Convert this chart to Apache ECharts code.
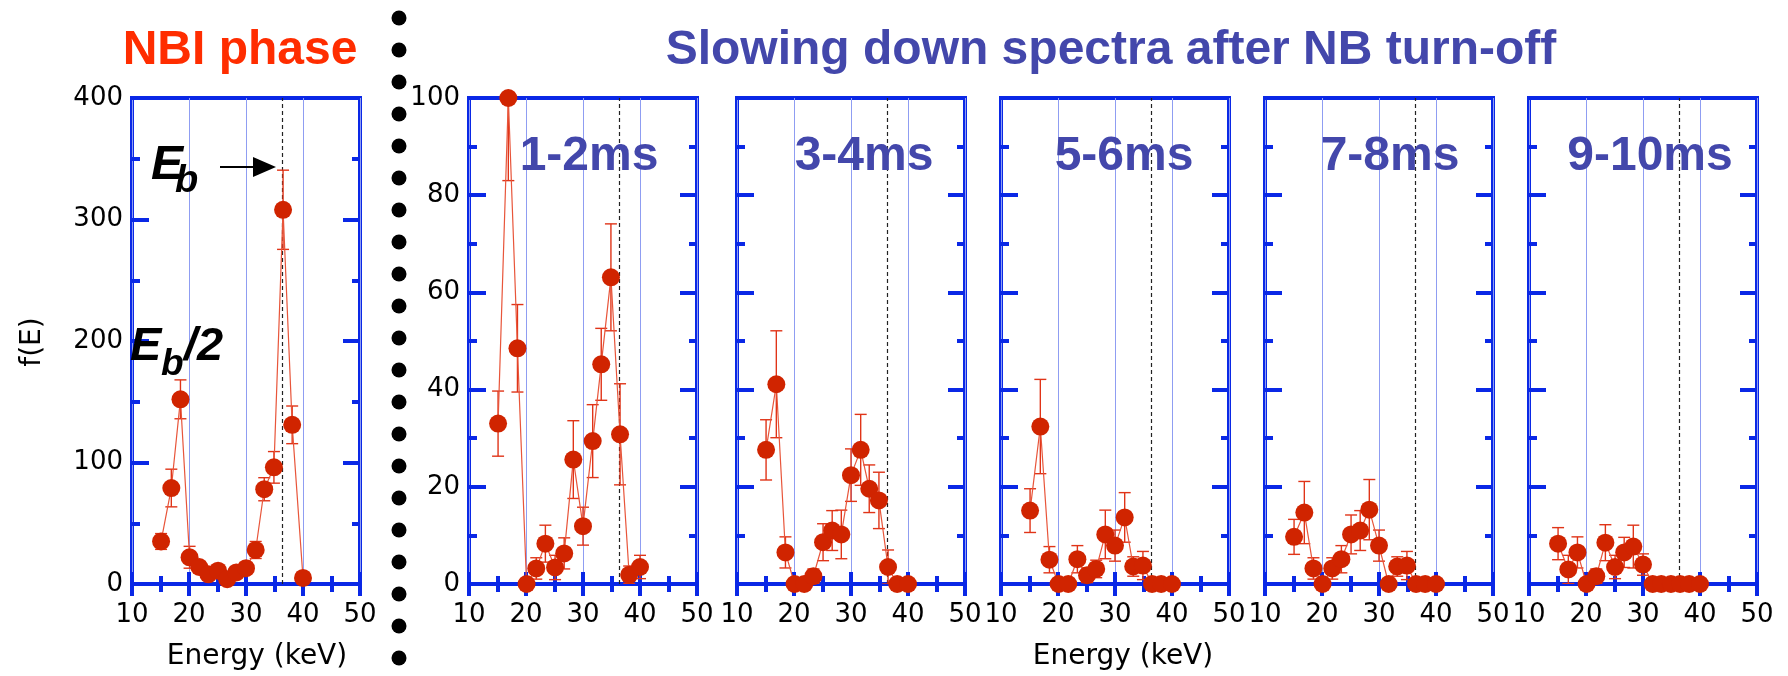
<!DOCTYPE html>
<html>
<head>
<meta charset="utf-8">
<script src="https://cdn.jsdelivr.net/npm/echarts@6/dist/echarts.min.js"></script>
<style>
html,body{margin:0;padding:0;background:#fff;}
#chart{width:1788px;height:676px;}
</style>
</head>
<body>
<div id="chart"></div>
<script>
// ---------- data ----------
const energy = [15.1, 16.9, 18.5, 20.1, 21.8, 23.4, 25.1, 26.7, 28.3, 30.0, 31.7, 33.2, 34.9, 36.5, 38.1, 40.0];
const xTicks = [10, 20, 30, 40, 50];
const yTicksNBI = [0, 100, 200, 300, 400];
const yTicksSD = [0, 20, 40, 60, 80, 100];
const beamEnergy = 36.4;

const nbiVals = [35, 79, 152, 22, 14, 8, 11, 4, 9.5, 13, 28, 78, 96, 308, 131, 5];
const nbiErr  = [6.5, 15.5, 16, 9, 4, 4, 4, 3, 4, 4, 7, 9.5, 13, 32.6, 15.5, 3];

const t12Vals = [33, 100, 48.5, 0, 3.2, 8.3, 3.4, 6.3, 25.6, 11.9, 29.4, 45.2, 63.1, 30.8, 1.9, 3.5];
const t12Err  = [6.7, 17, 9, 0, 2.2, 3.8, 2.5, 3.2, 8, 3.9, 7.5, 7.4, 11, 10.4, 1.8, 2.4];

const t34Vals = [27.6, 41.1, 6.5, 0, 0, 1.6, 8.6, 11, 10.2, 22.4, 27.6, 19.6, 17.2, 3.5, 0, 0];
const t34Err  = [6.2, 11, 3.2, 0, 0, 1.5, 3.8, 4.1, 5, 5.4, 7.3, 4.9, 5.8, 3.5, 0, 0];

const t56Vals = [15.1, 32.4, 5, 0, 0, 5.1, 1.8, 3.1, 10.2, 7.9, 13.7, 3.6, 3.8, 0, 0, 0];
const t56Err  = [4.5, 9.7, 2.7, 0, 0, 2.8, 1.5, 1.8, 5, 3.2, 5.1, 2, 2.9, 0, 0, 0];

const t78Vals = [9.7, 14.7, 3.2, 0, 3.2, 5.1, 10.2, 11, 15.3, 7.9, 0, 3.6, 3.8, 0, 0, 0];
const t78Err  = [3.6, 6.4, 2.2, 0, 2.2, 2.8, 4, 4.1, 6.2, 3.2, 0, 2, 2.9, 0, 0, 0];

const t910Vals = [8.3, 3, 6.5, 0, 1.6, 8.5, 3.5, 6.5, 7.7, 4, 0, 0, 0, 0, 0, 0];
const t910Err  = [3.3, 2.9, 3.2, 0, 1.5, 3.7, 2.4, 3.1, 4.4, 2.2, 0, 0, 0, 0, 0, 0];

const panelLabels = ['', '1-2ms', '3-4ms', '5-6ms', '7-8ms', '9-10ms'];

// ---------- layout / style ----------
const panels = [
  {vals: nbiVals,  errs: nbiErr,  yt: yTicksNBI, left: 132,  showY: true},
  {vals: t12Vals,  errs: t12Err,  yt: yTicksSD,  left: 469,  showY: true},
  {vals: t34Vals,  errs: t34Err,  yt: yTicksSD,  left: 737,  showY: false},
  {vals: t56Vals,  errs: t56Err,  yt: yTicksSD,  left: 1001, showY: false},
  {vals: t78Vals,  errs: t78Err,  yt: yTicksSD,  left: 1265, showY: false},
  {vals: t910Vals, errs: t910Err, yt: yTicksSD,  left: 1529, showY: false}
];
const labelPos = [null, 589, 864, 1124, 1390, 1650];
const GW = 228, GT = 98, GH = 486;
const BLUE = '#0a28e6';
const GRIDBLUE = '#8f9df2';
const TITLEBLUE = '#4347ab';
const MARK = '#d02400';
const LINE = '#e8553a';
const ERR = '#e03418';
const TICKFONT = 'DejaVu Sans';

const grids = [], xAxes = [], yAxes = [], series = [];
panels.forEach((p, i) => {
  grids.push({left: p.left, top: GT, width: GW, height: GH, show: true,
    borderColor: BLUE, borderWidth: 4, backgroundColor: 'transparent'});
  const xmin = xTicks[0], xmax = xTicks[xTicks.length - 1], xint = xTicks[1] - xTicks[0];
  const ymin = p.yt[0], ymax = p.yt[p.yt.length - 1], yint = p.yt[1] - p.yt[0];
  const xBase = {
    type: 'value', gridIndex: i, min: xmin, max: xmax, interval: xint,
    axisLine: {show: false},
    axisTick: {show: true, inside: true, length: 12, lineStyle: {color: BLUE, width: 4}},
    minorTick: {show: true, splitNumber: 2, length: 8, lineStyle: {color: BLUE, width: 4}}
  };
  xAxes.push(Object.assign({}, xBase, {
    position: 'bottom',
    splitLine: {show: true, lineStyle: {color: GRIDBLUE, width: 1}},
    axisLabel: {show: true, color: '#000', fontSize: 26, fontFamily: TICKFONT, margin: 18}
  }));
  xAxes.push(Object.assign({}, xBase, {
    position: 'top', splitLine: {show: false}, axisLabel: {show: false}
  }));
  const yBase = {
    type: 'value', gridIndex: i, min: ymin, max: ymax, interval: yint,
    axisLine: {show: false}, splitLine: {show: false},
    axisTick: {show: true, inside: true, length: 17, lineStyle: {color: BLUE, width: 4}},
    minorTick: {show: true, splitNumber: 2, length: 8, lineStyle: {color: BLUE, width: 4}}
  };
  yAxes.push(Object.assign({}, yBase, {
    position: 'left',
    axisLabel: {show: p.showY, color: '#000', fontSize: 26, fontFamily: TICKFONT, margin: 9}
  }));
  yAxes.push(Object.assign({}, yBase, {position: 'right', axisLabel: {show: false}}));

  series.push({
    type: 'custom', xAxisIndex: 2 * i, yAxisIndex: 2 * i, clip: true, z: 3, silent: true,
    data: energy.map((e, k) => [e, p.vals[k], p.errs[k]]),
    renderItem: function (params, api) {
      const x = api.value(0), y = api.value(1), e = api.value(2);
      if (!e) return null;
      const a = api.coord([x, y + e]);
      const b = api.coord([x, y - e]);
      const hw = 6;
      const st = {stroke: ERR, lineWidth: 1.4};
      return {type: 'group', children: [
        {type: 'line', shape: {x1: a[0], y1: a[1], x2: b[0], y2: b[1]}, style: st},
        {type: 'line', shape: {x1: a[0] - hw, y1: a[1], x2: a[0] + hw, y2: a[1]}, style: st},
        {type: 'line', shape: {x1: b[0] - hw, y1: b[1], x2: b[0] + hw, y2: b[1]}, style: st}
      ]};
    }
  });
  series.push({
    type: 'line', xAxisIndex: 2 * i, yAxisIndex: 2 * i, z: 4, silent: true,
    data: energy.map((e, k) => [e, p.vals[k]]),
    symbol: 'circle', symbolSize: 18, showSymbol: true, clip: false,
    itemStyle: {color: MARK},
    lineStyle: {color: LINE, width: 1.2},
    markLine: {
      silent: true, symbol: 'none', animation: false, z: 2,
      label: {show: false},
      lineStyle: {color: '#222', type: [4, 3], width: 1.2},
      data: [{xAxis: beamEnergy}]
    }
  });
});

const graphics = [];
// column of dots (separator)
for (let k = 0; k < 21; k++) {
  graphics.push({type: 'circle', shape: {cx: 399, cy: 18 + 32 * k, r: 7.5}, style: {fill: '#000'}});
}
const txt = (text, x, y, font, fill, align, extra) => Object.assign({
  type: 'text', x: x, y: y, z: 50,
  style: {text: text, font: font, fill: fill, textAlign: align || 'center',
          textVerticalAlign: 'middle', verticalAlign: 'middle'}
}, extra || {});
graphics.push(txt('NBI phase', 240, 51, 'bold 48px "Liberation Sans"', '#ff2d00'));
graphics.push(txt('Slowing down spectra after NB turn-off', 1111, 51, 'bold 48px "Liberation Sans"', TITLEBLUE));
panelLabels.forEach((s, i) => {
  if (s) graphics.push(txt(s, labelPos[i], 157, 'bold 48px "Liberation Sans"', TITLEBLUE));
});
graphics.push(txt('Energy (keV)', 257, 657, '28px "DejaVu Sans"', '#000'));
graphics.push(txt('Energy (keV)', 1123, 657, '28px "DejaVu Sans"', '#000'));
graphics.push(txt('f(E)', 33, 342, '28px "DejaVu Sans"', '#000', 'center', {rotation: Math.PI / 2}));
// E_b annotation with arrow
graphics.push(txt('E', 151, 166, 'italic bold 48px "Liberation Sans"', '#000', 'left'));
graphics.push(txt('b', 175, 182, 'italic bold 38px "Liberation Sans"', '#000', 'left'));
graphics.push({type: 'line', shape: {x1: 220, y1: 167, x2: 258, y2: 167}, style: {stroke: '#000', lineWidth: 2}, z: 50});
graphics.push({type: 'polygon', shape: {points: [[253, 157], [276, 167], [253, 177]]}, style: {fill: '#000'}, z: 50});
// E_b/2 annotation
graphics.push(txt('E', 130, 347, 'italic bold 47px "Liberation Sans"', '#000', 'left'));
graphics.push(txt('b', 161, 365, 'italic bold 37px "Liberation Sans"', '#000', 'left'));
graphics.push(txt('/2', 184, 347, 'italic bold 47px "Liberation Sans"', '#000', 'left'));

const chart = echarts.init(document.getElementById('chart'), null, {renderer: 'canvas'});
chart.setOption({
  animation: false,
  backgroundColor: '#fff',
  grid: grids, xAxis: xAxes, yAxis: yAxes, series: series,
  graphic: graphics
});
</script>
</body>
</html>
